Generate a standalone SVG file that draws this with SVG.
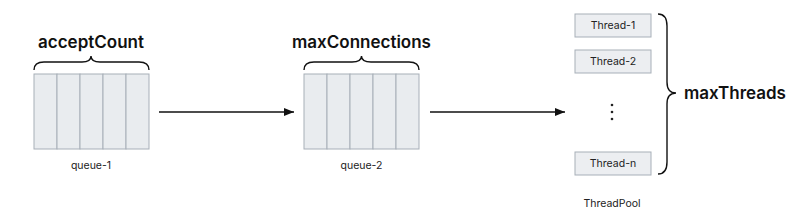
<svg xmlns="http://www.w3.org/2000/svg" width="800" height="223" viewBox="0 0 800 223">
<defs>
<style>
.cell{fill:#e9ecef;stroke:#a7afb8;stroke-width:1}
.tbox{fill:#eceef1;stroke:#a7afb8;stroke-width:1}
.brace{fill:none;stroke:#111;stroke-width:1.4}
.title{font-family:Inter,"Liberation Sans",sans-serif;font-weight:600;font-size:17px;fill:#111}
.lbl{font-family:Inter,"Liberation Sans",sans-serif;font-size:10.5px;fill:#222}
.conn{stroke:#111;stroke-width:1.4;fill:none}
</style>
<marker id="arr" viewBox="0 0 10 10" refX="10" refY="5" markerWidth="10" markerHeight="10" markerUnits="userSpaceOnUse" orient="auto">
<path d="M0,1 L10,5 L0,9 Z" fill="#111"/>
</marker>
</defs>
<rect width="800" height="223" fill="#fff"/>

<g id="queue-1">
<text class="title" x="91" y="48" text-anchor="middle">acceptCount</text>
<path class="brace" d="M34,70 Q34,62 44,62 L82,62 Q91,62 91,56 Q91,62 100,62 L139,62 Q149,62 149,70"/>
<rect class="cell" x="34" y="74" width="23" height="75"/>
<rect class="cell" x="57" y="74" width="23" height="75"/>
<rect class="cell" x="80" y="74" width="23" height="75"/>
<rect class="cell" x="103" y="74" width="23" height="75"/>
<rect class="cell" x="126" y="74" width="23" height="75"/>
<text class="lbl" x="91" y="169" text-anchor="middle">queue-1</text>
</g>

<g id="queue-2">
<text class="title" x="361.5" y="48" text-anchor="middle">maxConnections</text>
<path class="brace" d="M304,70 Q304,62 314,62 L352,62 Q361.5,62 361.5,56 Q361.5,62 371,62 L409,62 Q419,62 419,70"/>
<rect class="cell" x="304" y="74" width="23" height="75"/>
<rect class="cell" x="327" y="74" width="23" height="75"/>
<rect class="cell" x="350" y="74" width="23" height="75"/>
<rect class="cell" x="373" y="74" width="23" height="75"/>
<rect class="cell" x="396" y="74" width="23" height="75"/>
<text class="lbl" x="361.5" y="169" text-anchor="middle">queue-2</text>
</g>

<g id="threadpool">
<rect class="tbox" x="575" y="14" width="76" height="23"/>
<text class="lbl" x="613" y="29" text-anchor="middle">Thread-1</text>
<rect class="tbox" x="575" y="50" width="76" height="23"/>
<text class="lbl" x="613" y="65" text-anchor="middle">Thread-2</text>
<circle cx="612" cy="105" r="1.3" fill="#222"/>
<circle cx="612" cy="112" r="1.3" fill="#222"/>
<circle cx="612" cy="119" r="1.3" fill="#222"/>
<rect class="tbox" x="575" y="152" width="76" height="23"/>
<text class="lbl" x="613" y="167" text-anchor="middle">Thread-n</text>
<path class="brace" d="M658,14 Q667,14 667,26 L667,82 Q667,93 676,93 Q667,93 667,104 L667,162 Q667,174 658,174"/>
<text class="title" x="684" y="99">maxThreads</text>
<text class="lbl" x="612" y="207" text-anchor="middle">ThreadPool</text>
</g>

<g id="connectors">
<line class="conn" x1="159" y1="112" x2="294" y2="112" marker-end="url(#arr)"/>
<line class="conn" x1="430" y1="112" x2="565" y2="112" marker-end="url(#arr)"/>
</g>
</svg>
